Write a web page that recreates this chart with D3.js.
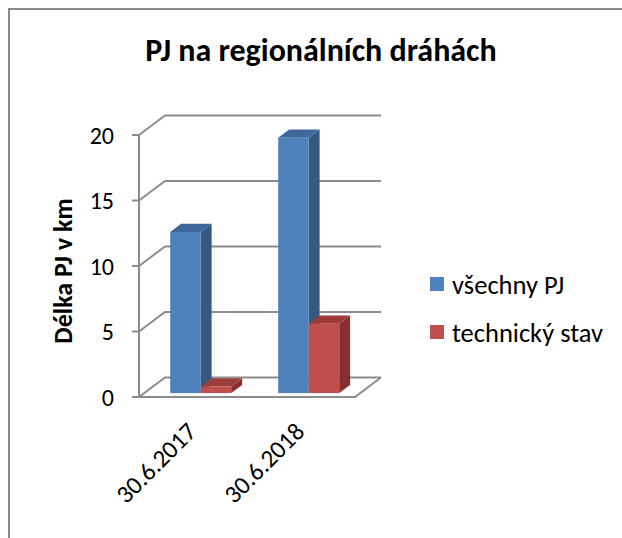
<!DOCTYPE html>
<html><head><meta charset="utf-8">
<script src="https://cdn.jsdelivr.net/npm/d3@7"></script>
<style>body{margin:0;background:#fff}svg{display:block}</style>
</head><body>
<script>
const categories = ["30.6.2017", "30.6.2018"];
const seriesNames = ["všechny PJ", "technický stav"];
const seriesAll = [12.3, 19.5];
const seriesTech = [0.5, 5.3];
const yTicks = [0, 5, 10, 15, 20];
const title = "PJ na regionálních dráhách";
const yTitle = "Délka PJ v km";

const W = 622, H = 538;
const FONT = "Carlito, Calibri, Lato, sans-serif";
const svg = d3.select("body").append("svg").attr("width", W).attr("height", H);

// frame
svg.append("path").attr("d", `M9,${H} L9,9 L${W},9`).attr("fill","none")
  .attr("stroke","#8a8a8a").attr("stroke-width",2);

svg.append("text").attr("x", 321).attr("y", 61).attr("text-anchor","middle")
  .attr("font-family", FONT).attr("font-weight","bold").attr("font-size",32)
  .attr("fill","#000").text(title);

const y = d3.scaleLinear().domain([0, 20]).range([397, 135]);
const x0 = d3.scaleBand().domain(categories).range([139, 355]);
const x1 = d3.scaleBand().domain(seriesNames).range([26, 87]);
const DX = 26, DY = -19.5;           // wall depth
const bf = 0.2, bd = 0.42;           // bar front depth, bar depth (fractions)

const grid = svg.append("g").attr("stroke","#8c8c8c").attr("stroke-width",2).attr("fill","none");
const x0L = x0.range()[0], x0R = x0.range()[1];
yTicks.forEach(t => {
  grid.append("path").attr("d", `M${x0L},${y(t)} L${x0L+DX},${y(t)+DY} L${x0R+DX},${y(t)+DY}`);
  grid.append("line").attr("x1", x0L-7).attr("x2", x0L).attr("y1", y(t)).attr("y2", y(t));
});
grid.append("path").attr("d", `M${x0L},${y(0)} L${x0R},${y(0)} L${x0R+DX},${y(0)+DY}`);
grid.append("line").attr("x1", x0L).attr("x2", x0L).attr("y1", y(20)).attr("y2", y(0));

svg.append("g").selectAll("text").data(yTicks).join("text")
  .attr("x", 114).attr("y", d => y(d)).attr("dy","0.36em").attr("text-anchor","end")
  .attr("font-family", FONT).attr("font-size",24).attr("fill","#000").text(d => d);

svg.append("text").attr("transform","translate(72,271) rotate(-90)").attr("text-anchor","middle")
  .attr("font-family", FONT).attr("font-weight","bold").attr("font-size",26)
  .attr("fill","#000").text(yTitle);

const colors = {
  "všechny PJ": {front:"#4F81BD", side:"#35587F", top:"#3E689C"},
  "technický stav": {front:"#C0504D", side:"#83302E", top:"#9C3B39"}
};
const data = [];
categories.forEach((c, i) => {
  data.push({cat:c, s:seriesNames[0], v:seriesAll[i]});
  data.push({cat:c, s:seriesNames[1], v:seriesTech[i]});
});
const bars = svg.append("g");
data.forEach(d => {
  const fx = x0(d.cat) + x1(d.s) + DX*bf, w = x1.bandwidth();
  const oy = DY*bf;
  const yt = y(d.v) + oy, yb = y(0) + oy;
  const ddx = DX*bd, ddy = DY*bd;
  const col = colors[d.s];
  bars.append("path").attr("fill", col.side)
    .attr("d", `M${fx+w},${yt} L${fx+w+ddx},${yt+ddy} L${fx+w+ddx},${yb+ddy} L${fx+w},${yb}Z`);
  bars.append("path").attr("fill", col.top)
    .attr("d", `M${fx},${yt} L${fx+ddx},${yt+ddy} L${fx+w+ddx},${yt+ddy} L${fx+w},${yt}Z`);
  bars.append("rect").attr("x", fx).attr("y", yt).attr("width", w).attr("height", yb-yt)
    .attr("fill", col.front);
});

svg.append("g").selectAll("text").data(categories).join("text")
  .attr("transform", d => `translate(${x0(d)+x0.bandwidth()/2+5},${y(0)+36}) rotate(-45)`)
  .attr("text-anchor","end").attr("font-family", FONT).attr("font-size",25).attr("fill","#000")
  .text(d => d);

const lg = svg.append("g").attr("transform","translate(430,277)");
seriesNames.forEach((s, i) => {
  const g = lg.append("g").attr("transform", `translate(0,${i*48})`);
  g.append("rect").attr("width",14).attr("height",14).attr("fill", colors[s].front);
  g.append("text").attr("x",22).attr("y",7).attr("dy","0.36em")
    .attr("font-family", FONT).attr("font-size",26.5).attr("fill","#000").text(s);
});
</script>
</body></html>
